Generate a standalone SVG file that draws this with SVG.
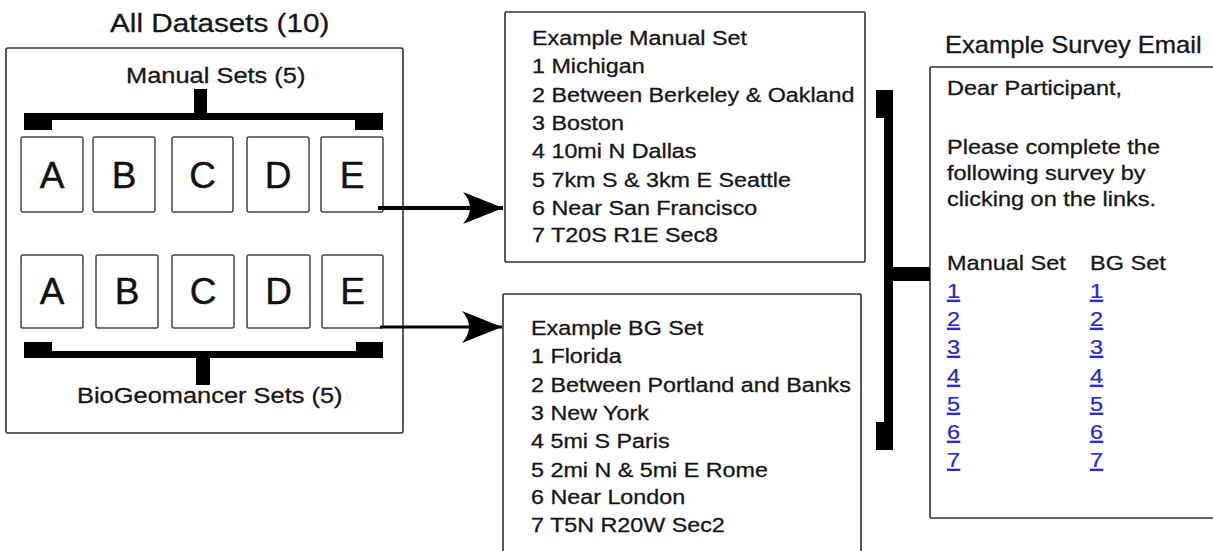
<svg xmlns="http://www.w3.org/2000/svg" width="1213" height="551" viewBox="0 0 1213 551">
<defs>
<style>
.t{font-family:"Liberation Sans",Arial,Helvetica,sans-serif;fill:#161616;stroke:#161616;stroke-width:0.3}
.box{fill:#fff;stroke:#333;stroke-width:1.6}
.cell{fill:#fff;stroke:#444;stroke-width:1.5}
.blk{fill:#000}
.lt{font-family:"Liberation Sans",Arial,sans-serif;fill:#111;stroke:#111;stroke-width:0.4;font-size:37px;text-anchor:middle}
.bt{font-size:21px}
.lk{font-family:"Liberation Sans",Arial,sans-serif;font-size:21px;fill:#2a2ac4;stroke:#2a2ac4;stroke-width:0.25;text-decoration:underline}
.conn{stroke:#000;fill:none}
</style>
<marker id="ah" markerUnits="userSpaceOnUse" markerWidth="42" markerHeight="36" refX="40" refY="17" orient="auto">
<path d="M40,17 L0,1 Q14,17 0,33 Z" fill="#000"/>
</marker>
</defs>
<rect width="1213" height="551" fill="#fff"/>

<g id="all-datasets">
<rect class="box" x="6" y="48" width="397" height="385" rx="2" stroke-width="2"/>
<text class="t" transform="translate(110,32) scale(1.12,1)" font-size="26.5">All Datasets (10)</text>
<text class="t" transform="translate(126,83) scale(1.13,1)" font-size="22.5">Manual Sets (5)</text>
<text class="t" transform="translate(77,403) scale(1.13,1)" font-size="22.5">BioGeomancer Sets (5)</text>
<rect class="blk" x="24" y="113" width="359" height="7"/>
<rect class="blk" x="24" y="113" width="28" height="17"/>
<rect class="blk" x="355" y="113" width="28" height="17"/>
<rect class="blk" x="194" y="89" width="13" height="30"/>
<rect class="blk" x="24" y="351" width="359" height="7"/>
<rect class="blk" x="24" y="342" width="28" height="16"/>
<rect class="blk" x="356" y="342" width="27" height="16"/>
<rect class="blk" x="196" y="351" width="14" height="34"/>
</g>

<g id="manual-row">
<rect class="cell" x="21" y="137" width="62" height="75" rx="2"/>
<rect class="cell" x="93" y="137" width="62" height="75" rx="2"/>
<rect class="cell" x="172" y="137" width="61" height="75" rx="2"/>
<rect class="cell" x="247" y="137" width="62" height="75" rx="2"/>
<rect class="cell" x="321" y="137" width="62" height="75" rx="2"/>
<text class="lt" x="52" y="188">A</text>
<text class="lt" x="124" y="188">B</text>
<text class="lt" x="202.5" y="188">C</text>
<text class="lt" x="278" y="188">D</text>
<text class="lt" x="352" y="188">E</text>
</g>

<g id="bg-row">
<rect class="cell" x="21" y="255" width="62" height="73" rx="2"/>
<rect class="cell" x="96" y="255" width="62" height="73" rx="2"/>
<rect class="cell" x="172" y="255" width="62" height="73" rx="2"/>
<rect class="cell" x="247" y="255" width="63" height="73" rx="2"/>
<rect class="cell" x="322" y="255" width="61" height="73" rx="2"/>
<text class="lt" x="52" y="304">A</text>
<text class="lt" x="127" y="304">B</text>
<text class="lt" x="203" y="304">C</text>
<text class="lt" x="278.5" y="304">D</text>
<text class="lt" x="352.5" y="304">E</text>
</g>

<g id="manual-set">
<rect class="box" x="505" y="12" width="360" height="250" rx="1"/>
<g class="t bt" transform="translate(532,0) scale(1.11,1)">
<text x="0" y="45">Example Manual Set</text>
<text x="0" y="73">1 Michigan</text>
<text x="0" y="102">2 Between Berkeley &amp; Oakland</text>
<text x="0" y="130">3 Boston</text>
<text x="0" y="158">4 10mi N Dallas</text>
<text x="0" y="187">5 7km S &amp; 3km E Seattle</text>
<text x="0" y="215">6 Near San Francisco</text>
<text x="0" y="242">7 T20S R1E Sec8</text>
</g>
</g>

<g id="bg-set">
<rect class="box" x="503" y="294" width="358" height="270" rx="1"/>
<g class="t bt" transform="translate(531,0) scale(1.11,1)">
<text x="0" y="335">Example BG Set</text>
<text x="0" y="363">1 Florida</text>
<text x="0" y="392">2 Between Portland and Banks</text>
<text x="0" y="420">3 New York</text>
<text x="0" y="448">4 5mi S Paris</text>
<text x="0" y="477">5 2mi N &amp; 5mi E Rome</text>
<text x="0" y="504">6 Near London</text>
<text x="0" y="532">7 T5N R20W Sec2</text>
</g>
</g>

<g id="survey-email">
<text class="t" transform="translate(945,53) scale(1.11,1)" font-size="23">Example Survey Email</text>
<rect class="box" x="930" y="67" width="300" height="451" rx="1"/>
<g class="t bt" transform="translate(947,0) scale(1.12,1)">
<text x="0" y="95">Dear Participant,</text>
<text x="0" y="154">Please complete the</text>
<text x="0" y="180">following survey by</text>
<text x="0" y="206">clicking on the links.</text>
<text x="0" y="270">Manual Set</text>
<text x="127.7" y="270">BG Set</text>
</g>
<g transform="translate(947,0) scale(1.12,1)">
<text class="lk" x="0" y="298">1</text>
<text class="lk" x="0" y="326">2</text>
<text class="lk" x="0" y="354">3</text>
<text class="lk" x="0" y="383">4</text>
<text class="lk" x="0" y="411">5</text>
<text class="lk" x="0" y="439">6</text>
<text class="lk" x="0" y="467">7</text>
<text class="lk" x="127.7" y="298">1</text>
<text class="lk" x="127.7" y="326">2</text>
<text class="lk" x="127.7" y="354">3</text>
<text class="lk" x="127.7" y="383">4</text>
<text class="lk" x="127.7" y="411">5</text>
<text class="lk" x="127.7" y="439">6</text>
<text class="lk" x="127.7" y="467">7</text>
</g>
</g>

<g id="connectors">
<line class="conn" x1="378" y1="208" x2="503" y2="208" stroke-width="4" marker-end="url(#ah)"/>
<line class="conn" x1="380" y1="327" x2="502" y2="327" stroke-width="3" marker-end="url(#ah)"/>
<g id="email-bracket">
<rect class="blk" x="884" y="90" width="9" height="360"/>
<rect class="blk" x="876" y="90" width="17" height="28"/>
<rect class="blk" x="876" y="422" width="17" height="28"/>
<rect class="blk" x="893" y="267" width="37" height="14"/>
</g>
</g>
</svg>
